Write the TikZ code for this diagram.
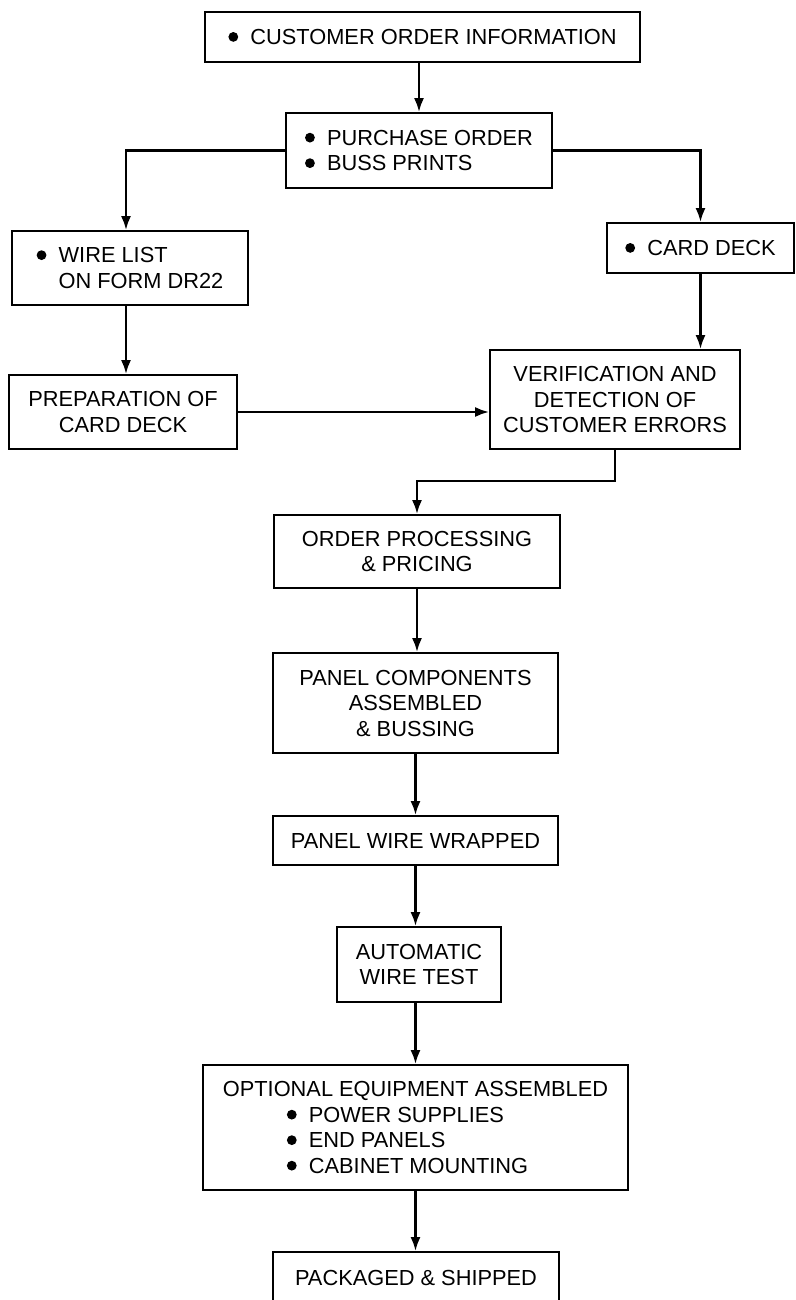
\documentclass[tikz,border=0pt]{standalone}
\usepackage{fontspec}
\setmainfont{Liberation Sans}
\usetikzlibrary{arrows.meta,calc}
\newcommand{\bl}{\makebox[22pt][l]{\tikz[baseline={(0pt,-7.6pt)}]\fill (4.9pt,0pt) circle[radius=4.9pt];}}
\begin{document}
\begin{tikzpicture}[x=1pt,y=-1pt,
  box/.style={draw,line width=1.8pt,inner sep=0pt,font=\fontsize{21.8}{25.5}\selectfont},
  arr/.style={line width=2.3pt,-{Latex[length=14pt,width=10pt]}}]
\useasboundingbox (0,0) rectangle (795,1300);
\clip (0,0) rectangle (795,1300);
\fill[white] (0,0) rectangle (795,1300);

\node[box,minimum width=435pt,minimum height=50pt] (n1) at (422.5,37) {\bl CUSTOMER ORDER INFORMATION};
\node[box,minimum width=266pt,minimum height=75pt,align=left] (n2) at (419,150.5) {\bl PURCHASE ORDER\\\bl BUSS PRINTS};
\node[box,minimum width=236pt,minimum height=74pt,align=left] (wire) at (130,268) {\bl WIRE LIST\\\hspace*{22pt}ON FORM DR22};
\node[box,minimum width=228pt,minimum height=74pt,align=center] (prep) at (123,412) {PREPARATION OF\\CARD DECK};
\node[box,minimum width=187pt,minimum height=50pt] (card) at (700.5,248) {\bl CARD DECK};
\node[box,minimum width=250pt,minimum height=99pt,align=center] (verif) at (615,399.5) {VERIFICATION AND\\DETECTION OF\\CUSTOMER ERRORS};
\node[box,minimum width=286pt,minimum height=73pt,align=center] (proc) at (417,551.5) {ORDER PROCESSING\\\& PRICING};
\node[box,minimum width=285pt,minimum height=100pt,align=center] (comp) at (415.5,703) {PANEL COMPONENTS\\ASSEMBLED\\\& BUSSING};
\node[box,minimum width=285pt,minimum height=49pt] (wrap) at (415.5,840.5) {PANEL WIRE WRAPPED};
\node[box,minimum width=164pt,minimum height=75pt,align=center] (test) at (419,964.5) {AUTOMATIC\\WIRE TEST};
\node[box,minimum width=425pt,minimum height=125pt,align=left] (opt) at (415.5,1127.5) {OPTIONAL EQUIPMENT ASSEMBLED\\\hspace*{64pt}\bl POWER SUPPLIES\\\hspace*{64pt}\bl END PANELS\\\hspace*{64pt}\bl CABINET MOUNTING};
\node[box,minimum width=286pt,minimum height=52pt] (pack) at (416,1278) {PACKAGED \& SHIPPED};

\draw[arr] (n2.north |- n1.south) -- (n2.north);
\draw[arr] (n2.west) -| ([xshift=-4pt]wire.north);
\draw[arr] (n2.east) -| (card.north);
\draw[arr] ([xshift=-4pt]wire.south) -- ([xshift=-4pt]wire.south |- prep.north);
\draw[arr] (prep.east) -- (verif.west |- prep.east);
\draw[arr] (card.south) -- (card.south |- verif.north);
\draw[arr] (verif.south) -- ++(0,31) -| (proc.north);
\draw[arr] (proc.south) -- (proc.south |- comp.north);
\draw[arr] (comp.south) -- (comp.south |- wrap.north);
\draw[arr] (wrap.south) -- (wrap.south |- test.north);
\draw[arr] (test.south -| opt.north) -- (opt.north);
\draw[arr] (opt.south) -- (opt.south |- pack.north);
\end{tikzpicture}
\end{document}
